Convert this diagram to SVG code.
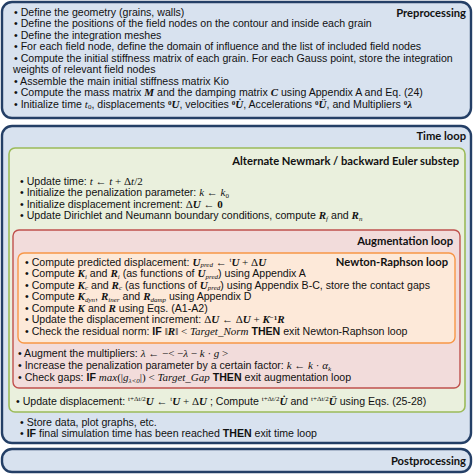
<svg xmlns="http://www.w3.org/2000/svg" width="474" height="474" viewBox="0 0 474 474">
<style>
.outer{fill:#d8e2ef;stroke:#243f66;stroke-width:2.4}
.green{fill:#eaf0dd;stroke:#9bbb59;stroke-width:1.6}
.red{fill:#f2dcdb;stroke:#c0504d;stroke-width:1.4}
.orange{fill:#fde9d9;stroke:#f79646;stroke-width:1.4}
.t{font-family:"Liberation Sans",Arial,sans-serif;font-size:10.6px;fill:#111}
.h{font-family:Lato,"Open Sans",sans-serif;font-weight:bold;font-size:11.2px;fill:#111;text-anchor:end}
.m{font-family:"Liberation Serif","DejaVu Serif",serif;font-style:italic;font-size:11px}
.mr{font-family:"Liberation Serif","DejaVu Serif",serif;font-style:normal;font-size:11px}
.mb{font-family:"Liberation Serif","DejaVu Serif",serif;font-style:italic;font-weight:bold;font-size:11px}
.s{font-size:7px}
.b{font-weight:bold}
</style>
<g id="preprocessing">
<rect class="outer" x="2" y="2" width="469" height="116" rx="10"/>
<text class="h" x="466" y="17">Preprocessing</text>
<text class="t" x="14" y="15.5">• Define the geometry (grains, walls)</text>
<text class="t" x="14" y="27">• Define the positions of the field nodes on the contour and inside each grain</text>
<text class="t" x="14" y="38.5">• Define the integration meshes</text>
<text class="t" x="14" y="50">• For each field node, define the domain of influence and the list of included field nodes</text>
<text class="t" x="14" y="61.5">• Compute the initial stiffness matrix of each grain. For each Gauss point, store the integration</text>
<text class="t" x="13" y="73">weights of relevant field nodes</text>
<text class="t" x="14" y="84.5">• Assemble the main initial stiffness matrix Kio</text>
<text class="t" x="14" y="96">• Compute the mass matrix <tspan class="mb">M</tspan> and the damping matrix <tspan class="mb">C</tspan> using Appendix A and Eq. (24)</text>
<text class="t" x="14" y="107.5">• Initialize time <tspan class="m">t</tspan><tspan class="mr s" dy="1.5">0</tspan><tspan dy="-1.5">, displacements </tspan><tspan class="mr s b" dy="-3">0</tspan><tspan class="mb" dy="3">U</tspan>, velocities <tspan class="mr s b" dy="-3">0</tspan><tspan class="mb" dy="3">U̇</tspan>, Accelerations <tspan class="mr s b" dy="-3">0</tspan><tspan class="mb" dy="3">Ü</tspan>, and Multipliers <tspan class="mr s b" dy="-3">0</tspan><tspan class="mb" dy="3">λ</tspan></text>
</g>
<g id="time-loop">
<rect class="outer" x="2" y="126" width="469" height="317" rx="10"/>
<text class="h" x="466" y="140">Time loop</text>
<text class="t" x="20" y="425.5">• Store data, plot graphs, etc.</text>
<text class="t" x="20" y="437">• <tspan class="b">IF</tspan> final simulation time has been reached <tspan class="b">THEN</tspan> exit time loop</text>
</g>
<g id="newmark-substep">
<rect class="green" x="9" y="148" width="456" height="264" rx="6"/>
<text class="h" x="459" y="165">Alternate Newmark / backward Euler substep</text>
<text class="t" x="20" y="184.5">• Update time:  <tspan class="m">t</tspan><tspan class="mr"> ← </tspan><tspan class="m">t</tspan><tspan class="mr"> + Δ</tspan><tspan class="m">t</tspan><tspan class="mr">/2</tspan></text>
<text class="t" x="20" y="196">• Initialize the penalization parameter:  <tspan class="m">k</tspan><tspan class="mr"> ← </tspan><tspan class="m">k</tspan><tspan class="mr s" dy="1.5">0</tspan></text>
<text class="t" x="20" y="207.5">• Initialize displacement increment:  <tspan class="mr">Δ</tspan><tspan class="mb">U</tspan><tspan class="mr"> ← </tspan><tspan class="mr b">0</tspan></text>
<text class="t" x="20" y="219">• Update Dirichlet and Neumann boundary conditions, compute <tspan class="mb">R</tspan><tspan class="m s" dy="1.5">f</tspan><tspan dy="-1.5"> and </tspan><tspan class="mb">R</tspan><tspan class="m s" dy="1.5">n</tspan></text>
<text class="t" x="16" y="404.5">• Update displacement:  <tspan class="mr s" dy="-3.5">t+Δt/2</tspan><tspan class="mb" dy="3.5">U</tspan><tspan class="mr"> ← </tspan><tspan class="mr s" dy="-3.5">t</tspan><tspan class="mb" dy="3.5">U</tspan><tspan class="mr"> + Δ</tspan><tspan class="mb">U</tspan> ; Compute <tspan class="mr s" dy="-3.5">t+Δt/2</tspan><tspan class="mb" dy="3.5">U̇</tspan> and <tspan class="mr s" dy="-3.5">t+Δt/2</tspan><tspan class="mb" dy="3.5">Ü</tspan> using Eqs. (25-28)</text>
</g>
<g id="augmentation-loop">
<rect class="red" x="13" y="230" width="447" height="158" rx="6"/>
<text class="h" x="453" y="245">Augmentation loop</text>
<text class="t" x="18" y="357">• Augment the multipliers:  <tspan class="m">λ</tspan><tspan class="mr"> ← −&lt; −</tspan><tspan class="m">λ</tspan><tspan class="mr"> − </tspan><tspan class="m">k</tspan><tspan class="mr"> · </tspan><tspan class="m">g</tspan><tspan class="mr"> &gt;</tspan></text>
<text class="t" x="18" y="369">• Increase the penalization parameter by a certain factor:  <tspan class="m">k</tspan><tspan class="mr"> ← </tspan><tspan class="m">k</tspan><tspan class="mr"> · </tspan><tspan class="m">α</tspan><tspan class="m s" dy="1.5">k</tspan></text>
<text class="t" x="18" y="381">• Check gaps: <tspan class="b">IF</tspan>  <tspan class="m">max</tspan><tspan class="mr">(|</tspan><tspan class="m">g</tspan><tspan class="m s" dy="1.5">λ&lt;0</tspan><tspan class="mr" dy="-1.5">|) &lt; </tspan><tspan class="m">Target_Gap</tspan>  <tspan class="b">THEN</tspan> exit augmentation loop</text>
</g>
<g id="newton-raphson-loop">
<rect class="orange" x="18" y="253" width="437" height="90" rx="6"/>
<text class="h" x="448" y="266">Newton-Raphson loop</text>
<text class="t" x="25" y="265.5">• Compute predicted displacement:  <tspan class="mb">U</tspan><tspan class="m s" dy="1.5">pred</tspan><tspan class="mr" dy="-1.5"> ← </tspan><tspan class="mr s" dy="-3.5">t</tspan><tspan class="mb" dy="3.5">U</tspan><tspan class="mr"> + Δ</tspan><tspan class="mb">U</tspan></text>
<text class="t" x="25" y="277">• Compute <tspan class="mb">K</tspan><tspan class="m s" dy="1.5">i</tspan><tspan dy="-1.5"> and </tspan><tspan class="mb">R</tspan><tspan class="m s" dy="1.5">i</tspan><tspan dy="-1.5"> (as functions of </tspan><tspan class="mb">U</tspan><tspan class="m s" dy="1.5">pred</tspan><tspan dy="-1.5">) using Appendix A</tspan></text>
<text class="t" x="25" y="288.5">• Compute <tspan class="mb">K</tspan><tspan class="m s" dy="1.5">c</tspan><tspan dy="-1.5"> and </tspan><tspan class="mb">R</tspan><tspan class="m s" dy="1.5">c</tspan><tspan dy="-1.5"> (as functions of </tspan><tspan class="mb">U</tspan><tspan class="m s" dy="1.5">pred</tspan><tspan dy="-1.5">) using Appendix B-C, store the contact gaps</tspan></text>
<text class="t" x="25" y="300">• Compute <tspan class="mb">K</tspan><tspan class="m s" dy="1.5">dyn</tspan><tspan dy="-1.5">, </tspan><tspan class="mb">R</tspan><tspan class="m s" dy="1.5">iner</tspan><tspan dy="-1.5"> and </tspan><tspan class="mb">R</tspan><tspan class="m s" dy="1.5">damp</tspan><tspan dy="-1.5"> using Appendix D</tspan></text>
<text class="t" x="25" y="311.5">• Compute <tspan class="mb">K</tspan> and <tspan class="mb">R</tspan> using Eqs. (A1-A2)</text>
<text class="t" x="25" y="323">• Update the displacement increment:  <tspan class="mr">Δ</tspan><tspan class="mb">U</tspan><tspan class="mr"> ← Δ</tspan><tspan class="mb">U</tspan><tspan class="mr"> + </tspan><tspan class="mb">K</tspan><tspan class="mr s b" dy="-3.5">−1</tspan><tspan class="mb" dy="3.5">R</tspan></text>
<text class="t" x="25" y="334.5">• Check the residual norm: <tspan class="b">IF</tspan>  <tspan class="mr">‖</tspan><tspan class="mb">R</tspan><tspan class="mr">‖ &lt; </tspan><tspan class="m">Target_Norm</tspan>  <tspan class="b">THEN</tspan> exit Newton-Raphson loop</text>
</g>
<g id="postprocessing">
<rect class="outer" x="2" y="449" width="469" height="23" rx="10"/>
<text class="h" x="466" y="465">Postprocessing</text>
</g>
<g id="connectors"/>
</svg>
